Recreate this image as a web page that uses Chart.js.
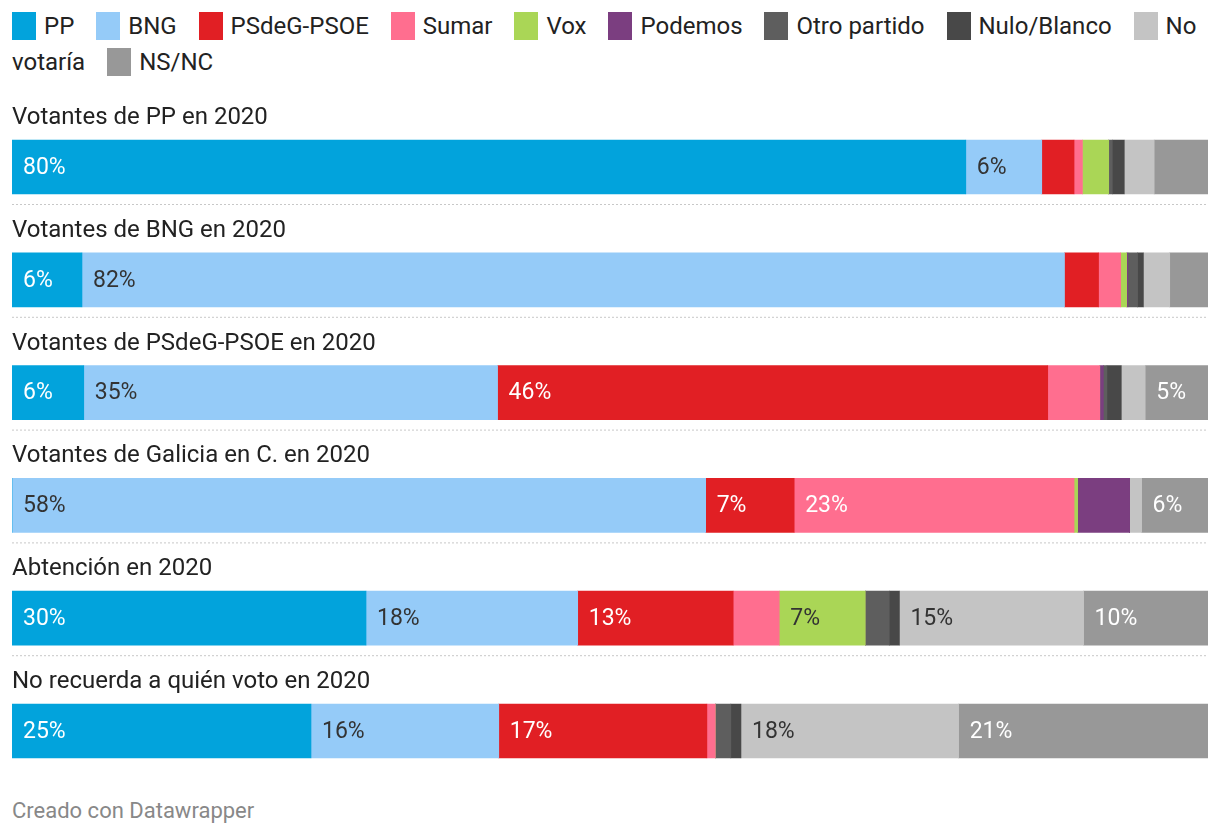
<!DOCTYPE html>
<html>
<head>
<meta charset="utf-8">
<script src="https://cdn.jsdelivr.net/npm/chart.js@4"></script>
<style>
  body { margin: 0; background: #fff; font-family: Roboto, sans-serif; color: #222; }
  #legend { position: absolute; left: 12px; top: 8px; width: 1200px; font-size: 24px; line-height: 36px; }
  .item { margin-right: 16px; }
  .sw { display: inline-block; width: 24px; height: 28px; vertical-align: -6px; margin-right: 8px; }
  #wrap { position: absolute; left: 12px; top: 96px; width: 1196px; height: 694px; }
  #foot { position: absolute; left: 12px; top: 798px; font-size: 22px; color: #888; }
</style>
</head>
<body>
<div id="legend"></div>
<div id="wrap"><canvas id="chart"></canvas></div>
<div id="foot">Creado con Datawrapper</div>
<script>
const filas = ['Votantes de PP en 2020', 'Votantes de BNG en 2020', 'Votantes de PSdeG-PSOE en 2020',
  'Votantes de Galicia en C. en 2020', 'Abtención en 2020', 'No recuerda a quién voto en 2020'];
const partidos = ['PP', 'BNG', 'PSdeG-PSOE', 'Sumar', 'Vox', 'Podemos', 'Otro partido', 'Nulo/Blanco', 'No votaría', 'NS/NC'];
const colores = ['#02a3dc', '#95cbf8', '#e11f24', '#ff6e8f', '#aad656', '#7b3e80', '#5e5e5e', '#484848', '#c4c4c4', '#989898'];
const textoOscuro = ['BNG', 'Vox', 'No votaría'];

// % de cada fila por partido
const pp      = [79.75, 5.85, 6.0, 0, 29.6, 25.0];
const bng     = [6.35, 82.15, 34.6, 58.0, 17.7, 15.7];
const psoe    = [2.7, 2.85, 46.0, 7.4, 13.0, 17.4];
const sumar   = [0.7, 1.85, 4.35, 23.4, 3.85, 0.7];
const vox     = [2.2, 0.5, 0, 0.3, 7.2, 0];
const podemos = [0, 0.1, 0.3, 4.35, 0, 0];
const otro    = [0.3, 0.8, 0.3, 0, 2.0, 1.3];
const nulo    = [1.0, 0.5, 1.2, 0, 0.85, 0.85];
const noVota  = [2.5, 2.2, 2.0, 1.0, 15.4, 18.2];
const nsnc    = [4.5, 3.2, 5.25, 5.55, 10.4, 20.85];
const series = [pp, bng, psoe, sumar, vox, podemos, otro, nulo, noVota, nsnc];

// leyenda html (para que "No votaría" parta de línea como en el original)
const leyenda = document.getElementById('legend');
partidos.forEach(function(p, i) {
  const item = document.createElement('span');
  item.className = 'item';
  item.innerHTML = '<span class="sw" style="background:' + colores[i] + '"></span>' + p;
  leyenda.appendChild(item);
  leyenda.appendChild(document.createTextNode(' '));
});

const extras = {
  id: 'extras',
  afterDatasetsDraw(chart) {
    const ctx = chart.ctx;
    const base = chart.getDatasetMeta(0).data;
    ctx.save();
    base.forEach(function(bar, i) {
      const top = bar.y - 27;
      ctx.fillStyle = '#222';
      ctx.font = '24px Roboto';
      ctx.textBaseline = 'middle';
      ctx.textAlign = 'left';
      ctx.fillText(filas[i], 0, top - 22);
      if (i < base.length - 1) {
        ctx.strokeStyle = '#c8c8c8';
        ctx.lineWidth = 1;
        ctx.setLineDash([2, 2]);
        ctx.beginPath();
        ctx.moveTo(0, bar.y + 37.5);
        ctx.lineTo(chart.width, bar.y + 37.5);
        ctx.stroke();
        ctx.setLineDash([]);
      }
    });
    chart.data.datasets.forEach(function(ds, d) {
      chart.getDatasetMeta(d).data.forEach(function(el, i) {
        const v = ds.data[i];
        if (v < 5) return;
        ctx.font = '23px Roboto';
        ctx.fillStyle = textoOscuro.includes(ds.label) ? '#333' : '#fff';
        ctx.fillText(Math.round(v) + '%', el.base + 11, el.y + 1);
      });
    });
    ctx.restore();
  }
};

new Chart(document.getElementById('chart'), {
  type: 'bar',
  data: {
    labels: filas,
    datasets: partidos.map(function(p, i) {
      return { label: p, data: series[i], backgroundColor: colores[i], borderWidth: 0, barThickness: 54 };
    })
  },
  options: {
    indexAxis: 'y',
    responsive: true,
    maintainAspectRatio: false,
    animation: false,
    layout: { padding: { top: 14.6, bottom: 2.6, left: 0, right: 0 } },
    scales: {
      x: { stacked: true, min: 0, max: 100, display: false },
      y: { stacked: true, display: false }
    },
    plugins: { legend: { display: false }, tooltip: { enabled: false } }
  },
  plugins: [extras]
});
</script>
</body>
</html>
